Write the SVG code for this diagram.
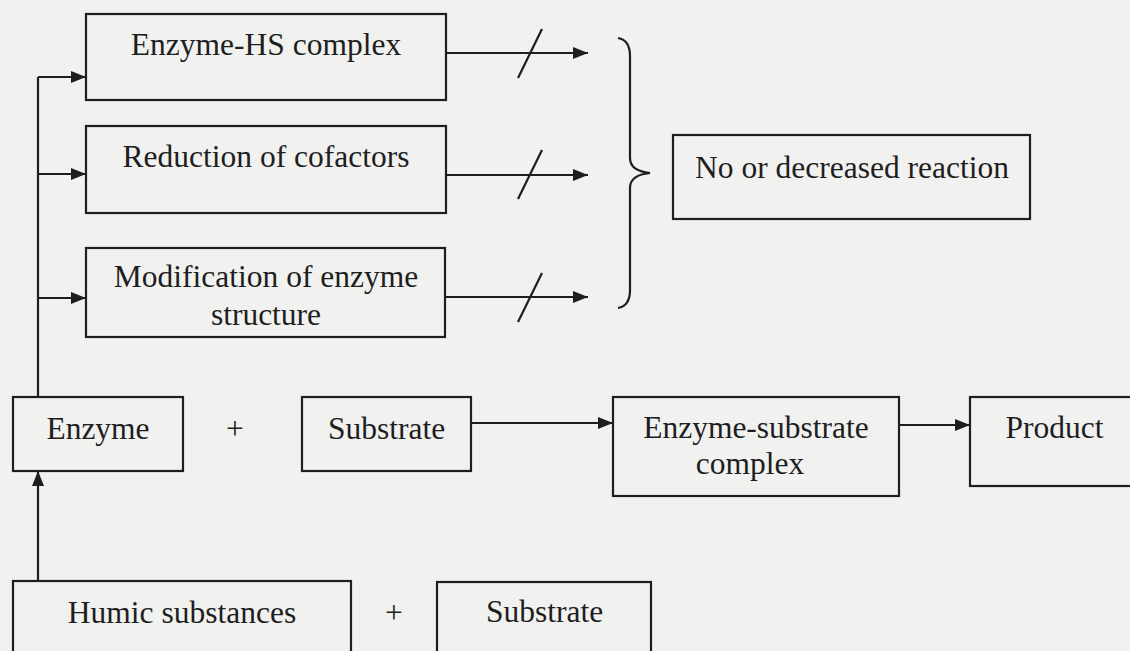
<svg xmlns="http://www.w3.org/2000/svg" width="1130" height="651" viewBox="0 0 1130 651">
<style>
.box{fill:none;stroke:#1e1e1e;stroke-width:2.2}
.t{font-family:"Liberation Serif","Times New Roman",serif;font-size:31.5px;fill:#1e1e1e;text-anchor:middle}
.ln{fill:none;stroke:#1e1e1e;stroke-width:2.2}
</style>
<defs>
<marker id="ah" markerUnits="userSpaceOnUse" markerWidth="16" markerHeight="12" refX="15" refY="6" orient="auto">
<path d="M0,0 L15,6 L0,12 Z" fill="#1e1e1e"/>
</marker>
</defs>
<rect width="1130" height="651" fill="#f1f1ef"/>
<g id="n-enzyme-hs"><rect class="box" x="86" y="14" width="360" height="86"/><text class="t" x="266" y="55">Enzyme-HS complex</text></g>
<g id="n-reduction"><rect class="box" x="86" y="126" width="360" height="87"/><text class="t" x="266" y="167">Reduction of cofactors</text></g>
<g id="n-modification"><rect class="box" x="86" y="248" width="359" height="89"/><text class="t" x="266" y="287">Modification of enzyme</text><text class="t" x="266" y="325">structure</text></g>
<g id="n-noreaction"><rect class="box" x="673" y="135" width="357" height="84"/><text class="t" x="852" y="178">No or decreased reaction</text></g>
<g id="n-enzyme"><rect class="box" x="13" y="397" width="170" height="74"/><text class="t" x="98" y="439">Enzyme</text></g>
<g id="n-plus1"><text class="t" x="235" y="439">+</text></g>
<g id="n-substrate"><rect class="box" x="302" y="397" width="169" height="74"/><text class="t" x="386.5" y="439">Substrate</text></g>
<g id="n-es"><rect class="box" x="613" y="397" width="286" height="99"/><text class="t" x="756" y="438">Enzyme-substrate</text><text class="t" x="750" y="474">complex</text></g>
<g id="n-product"><rect class="box" x="970" y="397" width="175" height="89"/><text class="t" x="1054.5" y="438">Product</text></g>
<g id="n-humic"><rect class="box" x="13" y="581" width="338" height="90"/><text class="t" x="182" y="623">Humic substances</text></g>
<g id="n-plus2"><text class="t" x="394" y="623">+</text></g>
<g id="n-substrate2"><rect class="box" x="437" y="582" width="214" height="90"/><text class="t" x="544.5" y="622">Substrate</text></g>
<g id="connectors">
<path class="ln" d="M38,397 L38,77"/>
<path class="ln" d="M38,77 L86,77" marker-end="url(#ah)"/>
<path class="ln" d="M38,174 L86,174" marker-end="url(#ah)"/>
<path class="ln" d="M38,298 L86,298" marker-end="url(#ah)"/>
<path class="ln" d="M446,53 L588,53" marker-end="url(#ah)"/>
<path class="ln" d="M446,175 L588,175" marker-end="url(#ah)"/>
<path class="ln" d="M445,297 L588,297" marker-end="url(#ah)"/>
<path class="ln" d="M518,78 L542,29"/>
<path class="ln" d="M518,199 L542,150"/>
<path class="ln" d="M518,322 L542,273"/>
<path class="ln" d="M618,38 Q630,40 630,56 L630,158 Q630,171 650,173 Q630,175 630,188 L630,290 Q630,306 618,308"/>
<path class="ln" d="M38,581 L38,471" marker-end="url(#ah)"/>
<path class="ln" d="M471,423 L613,423" marker-end="url(#ah)"/>
<path class="ln" d="M899,425 L970,425" marker-end="url(#ah)"/>
</g>
</svg>
